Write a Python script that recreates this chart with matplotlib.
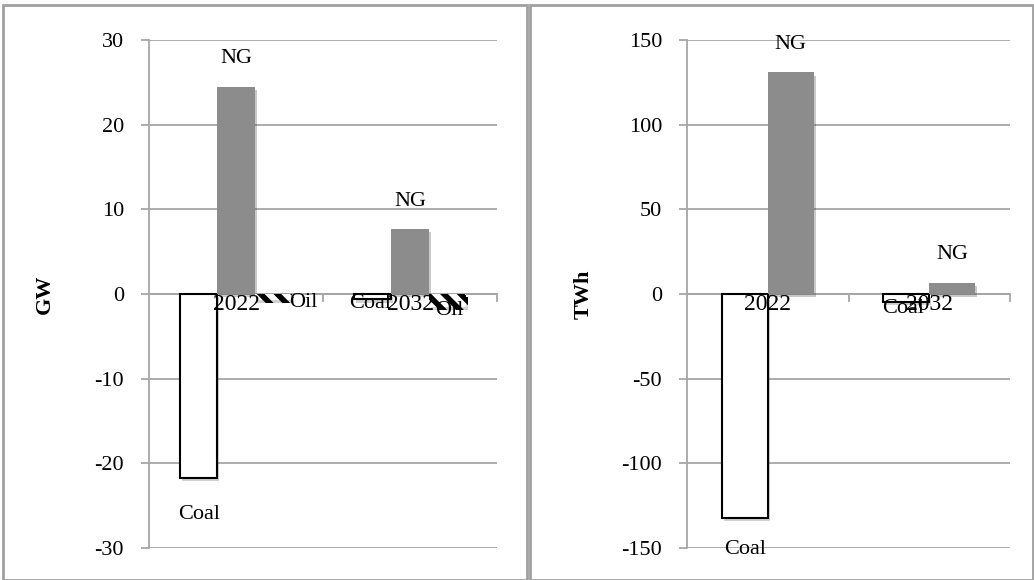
import numpy as np
import matplotlib
matplotlib.use("Agg")
import matplotlib.pyplot as plt
from matplotlib.patches import Rectangle
import matplotlib.patheffects as pe

years = ["2022", "2032"]

# capacity change (GW)
gw_coal = [-21.7, -0.6]
gw_ng = [24.5, 7.7]
gw_oil = [-0.7, -1.5]

# generation change (TWh)
twh_coal = [-132, -4.7]
twh_ng = [131, 6.5]

plt.rcParams['font.family'] = ['Liberation Serif', 'DejaVu Serif']
plt.rcParams['axes.unicode_minus'] = False
plt.rcParams['hatch.linewidth'] = 4.0

W, H = 1034, 580
fig = plt.figure(figsize=(W / 100, H / 100), dpi=100)

# panel frames
for x0, x1 in [(3, 527), (530, 1033)]:
    fig.patches.append(Rectangle((x0 / W, 0), (x1 - x0) / W, (H - 5) / H,
                                 transform=fig.transFigure, fill=False,
                                 edgecolor='#a0a0a0', linewidth=2))

shadow = [pe.SimplePatchShadow(offset=(1.5, -2.5), alpha=0.25), pe.Normal()]
grey = '#a6a6a6'


def setup(ax, lim, step, ylabel, label_x):
    ax.set_ylim(-lim, lim)
    ax.set_yticks(np.arange(-lim, lim + 1, step))
    ax.set_xlim(0, 2)
    ax.set_xticks([])
    ax.grid(axis='y', color=grey, linewidth=1.3)
    ax.set_axisbelow(True)
    for s in ['top', 'right', 'bottom']:
        ax.spines[s].set_visible(False)
    ax.spines['left'].set_color(grey)
    ax.spines['left'].set_linewidth(1.3)
    ax.tick_params(axis='y', length=6, width=1.3, color=grey, labelsize=16, pad=12)
    ax.axhline(0, color=grey, linewidth=1.3, zorder=1)
    for xt in [1, 2]:
        ax.plot([xt, xt], [0, -lim * 0.026], color=grey, linewidth=1.3, clip_on=False)
    ax.set_ylabel(ylabel, fontsize=16, fontweight='bold')
    ax.yaxis.set_label_coords(label_x, 0.5)
    for i, y in enumerate(years):
        ax.annotate(y, (i + 0.5, 0), xytext=(0, -7.5), textcoords='offset points',
                    ha='center', va='center', fontsize=17)


def label(ax, bars, name, offs):
    # offs: pixel offsets (dx right, dy down) of the label centre from the bar end
    for b, (dx, dy) in zip(bars, offs):
        ax.annotate(name, (b.get_x() + b.get_width() / 2, b.get_height()),
                    xytext=(dx * 0.72, -dy * 0.72), textcoords='offset points',
                    ha='center', va='center', fontsize=16)


x = np.arange(len(years)) + 0.5

# ---------- left: GW ----------
ax1 = fig.add_axes([149 / W, 32 / H, 348 / W, 508 / H])
w1 = 0.215
b_coal = ax1.bar(x - w1, gw_coal, w1, color='white', edgecolor='black', linewidth=1.5, zorder=3)
b_ng = ax1.bar(x, gw_ng, w1, color='#8c8c8c', zorder=3)
b_oil = ax1.bar(x + w1, gw_oil, w1, color='white', edgecolor='black', hatch='\\\\',
                linewidth=0, zorder=3)
for bars in (b_coal, b_ng, b_oil):
    for b in bars:
        b.set_path_effects(shadow)
setup(ax1, 30, 10, 'GW', -0.27)
label(ax1, b_coal, 'Coal', [(1, 37), (-2, 4)])
label(ax1, b_ng, 'NG', [(0, -28), (0, -27)])
label(ax1, b_oil, 'Oil', [(30, 3), (2, 4)])

# ---------- right: TWh ----------
ax2 = fig.add_axes([687 / W, 32 / H, 323 / W, 508 / H])
w2 = 0.285
c_coal = ax2.bar(x - w2 / 2, twh_coal, w2, color='white', edgecolor='black', linewidth=1.5, zorder=3)
c_ng = ax2.bar(x + w2 / 2, twh_ng, w2, color='#8c8c8c', zorder=3)
for bars in (c_coal, c_ng):
    for b in bars:
        b.set_path_effects(shadow)
setup(ax2, 150, 50, 'TWh', -0.288)
label(ax2, c_coal, 'Coal', [(0, 32), (-3, 7)])
label(ax2, c_ng, 'NG', [(0, -28), (0, -28)])

fig.savefig('out.png', dpi=100)
